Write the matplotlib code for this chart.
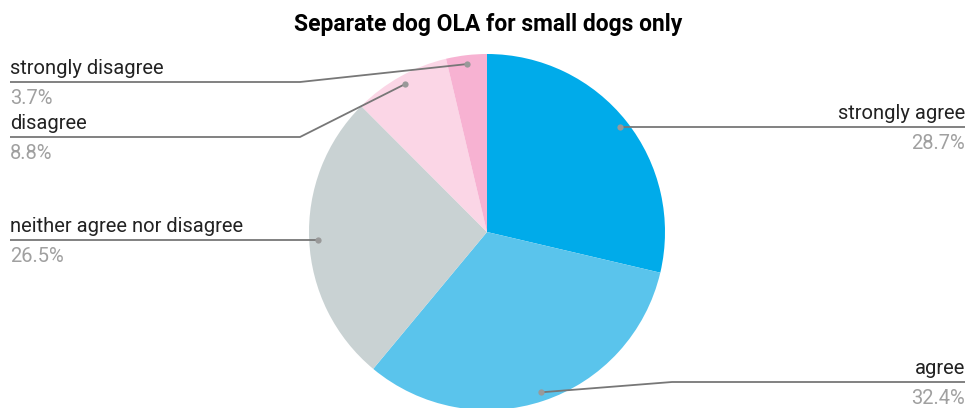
import matplotlib.pyplot as plt
import numpy as np

categories = ['strongly agree', 'agree', 'neither agree nor disagree',
              'disagree', 'strongly disagree']
shares = [28.7, 32.4, 26.5, 8.8, 3.7]
colors = ['#00abea', '#5ac4ec', '#c9d2d3', '#fbd6e6', '#f7b2d2']

plt.rcParams['font.family'] = 'Roboto'

W, H = 967, 408
fig = plt.figure(figsize=(W / 100, H / 100), dpi=100)
ax = fig.add_axes([0, 0, 1, 1])

cx, cy, R = 487, H - 232, 178
ax.pie(shares, colors=colors, startangle=90, counterclock=False,
       center=(cx, cy), radius=R, wedgeprops=dict(linewidth=0))

ax.set_xlim(0, W)
ax.set_ylim(0, H)
ax.set_aspect('equal')
ax.axis('off')

# label placement: (side, line y in px from top, elbow x)
layout = {
    'strongly agree': ('right', 128, None),
    'agree': ('right', 382, 672),
    'neither agree nor disagree': ('left', 240, None),
    'disagree': ('left', 137, 300),
    'strongly disagree': ('left', 82, 300),
}

total = sum(shares)
start = 0.0
for name, val in zip(categories, shares):
    mid = (start + val / 2) / total * 2 * np.pi
    start += val
    # clockwise from 12 o'clock
    dx, dy = np.sin(mid), np.cos(mid)
    px, py = cx + 0.95 * R * dx, cy + 0.95 * R * dy
    side, ly, elbow = layout[name]
    ly = H - ly
    end = 965 if side == 'right' else 10
    xs = [px]
    ys = [py]
    if elbow is not None:
        xs.append(elbow)
        ys.append(ly)
    else:
        ly = py
    xs.append(end)
    ys.append(ly)
    ax.plot(xs, ys, color='#777777', lw=1.3, solid_capstyle='butt')
    ax.plot(px, py, 'o', color='#999999', ms=4.5, mec='none')
    ha = 'right' if side == 'right' else 'left'
    ax.text(end, ly + 4, name, ha=ha, va='bottom', fontsize=14.5, color='#222222')
    ax.text(end, ly - 7, f'{val}%', ha=ha, va='top', fontsize=14.5, color='#a0a0a0')

ax.text(488, H - 25, 'Separate dog OLA for small dogs only', ha='center', va='center',
        fontsize=16.5, fontweight='bold', color='#000000')

fig.savefig('out.png', dpi=100)
